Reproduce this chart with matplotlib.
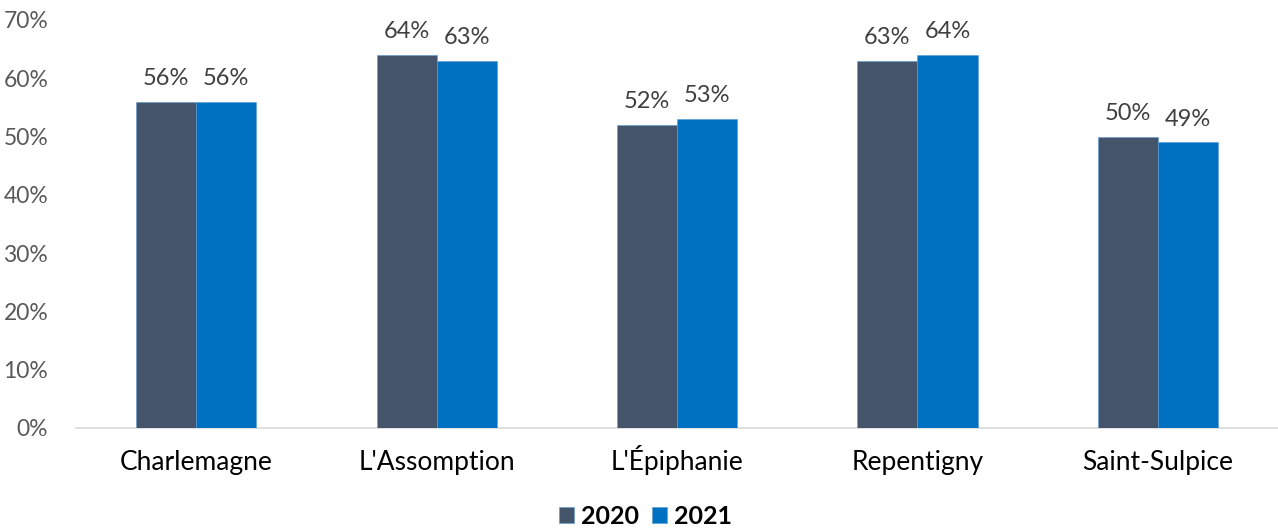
import numpy as np
import matplotlib.pyplot as plt

plt.rcParams['font.family'] = ['Lato', 'DejaVu Sans']

# données
categories = ["Charlemagne", "L'Assomption", "L'Épiphanie", "Repentigny", "Saint-Sulpice"]
val_2020 = [56, 64, 52, 63, 50]
val_2021 = [56, 63, 53, 64, 49]
series_labels = ["2020", "2021"]
colors = ["#44546A", "#0070C0"]

fig = plt.figure(figsize=(12.78, 5.29), dpi=100)
ax = fig.add_axes([76 / 1278, (529 - 428) / 529, (1278 - 76) / 1278, 408 / 529])

x = np.arange(len(categories))
w = 0.25
for i, (vals, lab, c) in enumerate(zip([val_2020, val_2021], series_labels, colors)):
    pos = x + (i - 0.5) * w
    ax.bar(pos, vals, w, color=c, label=lab, edgecolor="#5B9BD5", linewidth=0.4, zorder=3)
    for p, v in zip(pos, vals):
        ax.text(p, v + 2.2, f"{v}%", ha="center", va="bottom", fontsize=17, color="#404040")

ax.set_xlim(-0.5, len(categories) - 0.5)
ax.set_ylim(0, 70)
ax.set_yticks(range(0, 71, 10))
ax.set_yticklabels([f"{t}%" for t in range(0, 71, 10)], fontsize=16.5, color="#595959")
ax.set_xticks(x)
ax.set_xticklabels(categories, fontsize=19, color="#000000", va="baseline")
ax.tick_params(axis="both", length=0)
ax.tick_params(axis="y", pad=20)
ax.tick_params(axis="x", pad=30)
for s in ["top", "right", "left"]:
    ax.spines[s].set_visible(False)
ax.spines["bottom"].set_color("#D9D9D9")
ax.spines["bottom"].set_linewidth(1.2)

fig.legend(loc="lower center", bbox_to_anchor=(0.505, -0.04), ncol=2, frameon=False,
           handlelength=0.6, handleheight=0.6, handletextpad=0.3, columnspacing=0.5,
           prop={"size": 18, "weight": "bold"})

fig.savefig("out.png", dpi=100)
